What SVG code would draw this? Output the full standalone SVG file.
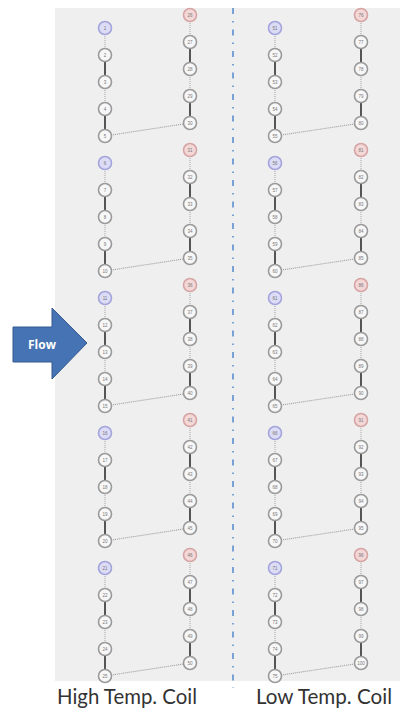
<svg xmlns="http://www.w3.org/2000/svg" width="400" height="712" viewBox="0 0 400 712">
<style>
.nd circle{fill:#f7f7f7;stroke:#9a9a9a;stroke-width:1.6}
.nd.bl circle{fill:#dcdcf6;stroke:#a4a4dc}
.nd.rd circle{fill:#f4d8d8;stroke:#d6a4a4}
.nd text{font-family:"Liberation Sans",Arial,sans-serif;font-size:4.5px;fill:#777;text-anchor:middle}
.dot{fill:none;stroke:#b0b0b0;stroke-width:1.2;stroke-dasharray:1 1}
.sol{fill:none;stroke:#555;stroke-width:2}
.crs{fill:none;stroke:#9a9a9a;stroke-width:1.1;stroke-dasharray:1 1}
.lbl{font-family:Lato,"Open Sans","Liberation Sans",sans-serif;font-size:21px;fill:#333}
</style>
<rect x="0" y="0" width="400" height="712" fill="#ffffff"/>
<rect x="55" y="8" width="345" height="673" fill="#efefef"/>
<line x1="233" y1="8" x2="233" y2="688" stroke="#5b8fd0" stroke-width="1.6" stroke-dasharray="6 7 1.5 7"/>
<g id="connectors">
<path class="dot" d="M105 28V55M105 82V109M105 163V190M105 217V244M105 298V325M105 352V379M105 433V460M105 487V514M105 568V595M105 622V649"/>
<path class="sol" d="M105 55V82M105 109V136M105 190V217M105 244V271M105 325V352M105 379V406M105 460V487M105 514V541M105 595V622M105 649V676"/>
<path class="dot" d="M190 15V42M190 69V96M190 150V177M190 204V231M190 285V312M190 339V366M190 420V447M190 474V501M190 555V582M190 609V636"/>
<path class="sol" d="M190 42V69M190 96V123M190 177V204M190 231V258M190 312V339M190 366V393M190 447V474M190 501V528M190 582V609M190 636V663"/>
<path class="crs" d="M105 136L190 123M105 271L190 258M105 406L190 393M105 541L190 528M105 676L190 663"/>
<path class="dot" d="M275 28V55M275 82V109M275 163V190M275 217V244M275 298V325M275 352V379M275 433V460M275 487V514M275 568V595M275 622V649"/>
<path class="sol" d="M275 55V82M275 109V136M275 190V217M275 244V271M275 325V352M275 379V406M275 460V487M275 514V541M275 595V622M275 649V676"/>
<path class="dot" d="M361 15V42M361 69V96M361 150V177M361 204V231M361 285V312M361 339V366M361 420V447M361 474V501M361 555V582M361 609V636"/>
<path class="sol" d="M361 42V69M361 96V123M361 177V204M361 231V258M361 312V339M361 366V393M361 447V474M361 501V528M361 582V609M361 636V663"/>
<path class="crs" d="M275 136L361 123M275 271L361 258M275 406L361 393M275 541L361 528M275 676L361 663"/>
</g>
<g id="n1" class="nd bl"><circle cx="105" cy="28" r="6.5"/><text x="105" y="29.6">1</text></g>
<g id="n2" class="nd"><circle cx="105" cy="55" r="6.5"/><text x="105" y="56.6">2</text></g>
<g id="n3" class="nd"><circle cx="105" cy="82" r="6.5"/><text x="105" y="83.6">3</text></g>
<g id="n4" class="nd"><circle cx="105" cy="109" r="6.5"/><text x="105" y="110.6">4</text></g>
<g id="n5" class="nd"><circle cx="105" cy="136" r="6.5"/><text x="105" y="137.6">5</text></g>
<g id="n6" class="nd bl"><circle cx="105" cy="163" r="6.5"/><text x="105" y="164.6">6</text></g>
<g id="n7" class="nd"><circle cx="105" cy="190" r="6.5"/><text x="105" y="191.6">7</text></g>
<g id="n8" class="nd"><circle cx="105" cy="217" r="6.5"/><text x="105" y="218.6">8</text></g>
<g id="n9" class="nd"><circle cx="105" cy="244" r="6.5"/><text x="105" y="245.6">9</text></g>
<g id="n10" class="nd"><circle cx="105" cy="271" r="6.5"/><text x="105" y="272.6">10</text></g>
<g id="n11" class="nd bl"><circle cx="105" cy="298" r="6.5"/><text x="105" y="299.6">11</text></g>
<g id="n12" class="nd"><circle cx="105" cy="325" r="6.5"/><text x="105" y="326.6">12</text></g>
<g id="n13" class="nd"><circle cx="105" cy="352" r="6.5"/><text x="105" y="353.6">13</text></g>
<g id="n14" class="nd"><circle cx="105" cy="379" r="6.5"/><text x="105" y="380.6">14</text></g>
<g id="n15" class="nd"><circle cx="105" cy="406" r="6.5"/><text x="105" y="407.6">15</text></g>
<g id="n16" class="nd bl"><circle cx="105" cy="433" r="6.5"/><text x="105" y="434.6">16</text></g>
<g id="n17" class="nd"><circle cx="105" cy="460" r="6.5"/><text x="105" y="461.6">17</text></g>
<g id="n18" class="nd"><circle cx="105" cy="487" r="6.5"/><text x="105" y="488.6">18</text></g>
<g id="n19" class="nd"><circle cx="105" cy="514" r="6.5"/><text x="105" y="515.6">19</text></g>
<g id="n20" class="nd"><circle cx="105" cy="541" r="6.5"/><text x="105" y="542.6">20</text></g>
<g id="n21" class="nd bl"><circle cx="105" cy="568" r="6.5"/><text x="105" y="569.6">21</text></g>
<g id="n22" class="nd"><circle cx="105" cy="595" r="6.5"/><text x="105" y="596.6">22</text></g>
<g id="n23" class="nd"><circle cx="105" cy="622" r="6.5"/><text x="105" y="623.6">23</text></g>
<g id="n24" class="nd"><circle cx="105" cy="649" r="6.5"/><text x="105" y="650.6">24</text></g>
<g id="n25" class="nd"><circle cx="105" cy="676" r="6.5"/><text x="105" y="677.6">25</text></g>
<g id="n26" class="nd rd"><circle cx="190" cy="15" r="6.5"/><text x="190" y="16.6">26</text></g>
<g id="n27" class="nd"><circle cx="190" cy="42" r="6.5"/><text x="190" y="43.6">27</text></g>
<g id="n28" class="nd"><circle cx="190" cy="69" r="6.5"/><text x="190" y="70.6">28</text></g>
<g id="n29" class="nd"><circle cx="190" cy="96" r="6.5"/><text x="190" y="97.6">29</text></g>
<g id="n30" class="nd"><circle cx="190" cy="123" r="6.5"/><text x="190" y="124.6">30</text></g>
<g id="n31" class="nd rd"><circle cx="190" cy="150" r="6.5"/><text x="190" y="151.6">31</text></g>
<g id="n32" class="nd"><circle cx="190" cy="177" r="6.5"/><text x="190" y="178.6">32</text></g>
<g id="n33" class="nd"><circle cx="190" cy="204" r="6.5"/><text x="190" y="205.6">33</text></g>
<g id="n34" class="nd"><circle cx="190" cy="231" r="6.5"/><text x="190" y="232.6">34</text></g>
<g id="n35" class="nd"><circle cx="190" cy="258" r="6.5"/><text x="190" y="259.6">35</text></g>
<g id="n36" class="nd rd"><circle cx="190" cy="285" r="6.5"/><text x="190" y="286.6">36</text></g>
<g id="n37" class="nd"><circle cx="190" cy="312" r="6.5"/><text x="190" y="313.6">37</text></g>
<g id="n38" class="nd"><circle cx="190" cy="339" r="6.5"/><text x="190" y="340.6">38</text></g>
<g id="n39" class="nd"><circle cx="190" cy="366" r="6.5"/><text x="190" y="367.6">39</text></g>
<g id="n40" class="nd"><circle cx="190" cy="393" r="6.5"/><text x="190" y="394.6">40</text></g>
<g id="n41" class="nd rd"><circle cx="190" cy="420" r="6.5"/><text x="190" y="421.6">41</text></g>
<g id="n42" class="nd"><circle cx="190" cy="447" r="6.5"/><text x="190" y="448.6">42</text></g>
<g id="n43" class="nd"><circle cx="190" cy="474" r="6.5"/><text x="190" y="475.6">43</text></g>
<g id="n44" class="nd"><circle cx="190" cy="501" r="6.5"/><text x="190" y="502.6">44</text></g>
<g id="n45" class="nd"><circle cx="190" cy="528" r="6.5"/><text x="190" y="529.6">45</text></g>
<g id="n46" class="nd rd"><circle cx="190" cy="555" r="6.5"/><text x="190" y="556.6">46</text></g>
<g id="n47" class="nd"><circle cx="190" cy="582" r="6.5"/><text x="190" y="583.6">47</text></g>
<g id="n48" class="nd"><circle cx="190" cy="609" r="6.5"/><text x="190" y="610.6">48</text></g>
<g id="n49" class="nd"><circle cx="190" cy="636" r="6.5"/><text x="190" y="637.6">49</text></g>
<g id="n50" class="nd"><circle cx="190" cy="663" r="6.5"/><text x="190" y="664.6">50</text></g>
<g id="n51" class="nd bl"><circle cx="275" cy="28" r="6.5"/><text x="275" y="29.6">51</text></g>
<g id="n52" class="nd"><circle cx="275" cy="55" r="6.5"/><text x="275" y="56.6">52</text></g>
<g id="n53" class="nd"><circle cx="275" cy="82" r="6.5"/><text x="275" y="83.6">53</text></g>
<g id="n54" class="nd"><circle cx="275" cy="109" r="6.5"/><text x="275" y="110.6">54</text></g>
<g id="n55" class="nd"><circle cx="275" cy="136" r="6.5"/><text x="275" y="137.6">55</text></g>
<g id="n56" class="nd bl"><circle cx="275" cy="163" r="6.5"/><text x="275" y="164.6">56</text></g>
<g id="n57" class="nd"><circle cx="275" cy="190" r="6.5"/><text x="275" y="191.6">57</text></g>
<g id="n58" class="nd"><circle cx="275" cy="217" r="6.5"/><text x="275" y="218.6">58</text></g>
<g id="n59" class="nd"><circle cx="275" cy="244" r="6.5"/><text x="275" y="245.6">59</text></g>
<g id="n60" class="nd"><circle cx="275" cy="271" r="6.5"/><text x="275" y="272.6">60</text></g>
<g id="n61" class="nd bl"><circle cx="275" cy="298" r="6.5"/><text x="275" y="299.6">61</text></g>
<g id="n62" class="nd"><circle cx="275" cy="325" r="6.5"/><text x="275" y="326.6">62</text></g>
<g id="n63" class="nd"><circle cx="275" cy="352" r="6.5"/><text x="275" y="353.6">63</text></g>
<g id="n64" class="nd"><circle cx="275" cy="379" r="6.5"/><text x="275" y="380.6">64</text></g>
<g id="n65" class="nd"><circle cx="275" cy="406" r="6.5"/><text x="275" y="407.6">65</text></g>
<g id="n66" class="nd bl"><circle cx="275" cy="433" r="6.5"/><text x="275" y="434.6">66</text></g>
<g id="n67" class="nd"><circle cx="275" cy="460" r="6.5"/><text x="275" y="461.6">67</text></g>
<g id="n68" class="nd"><circle cx="275" cy="487" r="6.5"/><text x="275" y="488.6">68</text></g>
<g id="n69" class="nd"><circle cx="275" cy="514" r="6.5"/><text x="275" y="515.6">69</text></g>
<g id="n70" class="nd"><circle cx="275" cy="541" r="6.5"/><text x="275" y="542.6">70</text></g>
<g id="n71" class="nd bl"><circle cx="275" cy="568" r="6.5"/><text x="275" y="569.6">71</text></g>
<g id="n72" class="nd"><circle cx="275" cy="595" r="6.5"/><text x="275" y="596.6">72</text></g>
<g id="n73" class="nd"><circle cx="275" cy="622" r="6.5"/><text x="275" y="623.6">73</text></g>
<g id="n74" class="nd"><circle cx="275" cy="649" r="6.5"/><text x="275" y="650.6">74</text></g>
<g id="n75" class="nd"><circle cx="275" cy="676" r="6.5"/><text x="275" y="677.6">75</text></g>
<g id="n76" class="nd rd"><circle cx="361" cy="15" r="6.5"/><text x="361" y="16.6">76</text></g>
<g id="n77" class="nd"><circle cx="361" cy="42" r="6.5"/><text x="361" y="43.6">77</text></g>
<g id="n78" class="nd"><circle cx="361" cy="69" r="6.5"/><text x="361" y="70.6">78</text></g>
<g id="n79" class="nd"><circle cx="361" cy="96" r="6.5"/><text x="361" y="97.6">79</text></g>
<g id="n80" class="nd"><circle cx="361" cy="123" r="6.5"/><text x="361" y="124.6">80</text></g>
<g id="n81" class="nd rd"><circle cx="361" cy="150" r="6.5"/><text x="361" y="151.6">81</text></g>
<g id="n82" class="nd"><circle cx="361" cy="177" r="6.5"/><text x="361" y="178.6">82</text></g>
<g id="n83" class="nd"><circle cx="361" cy="204" r="6.5"/><text x="361" y="205.6">83</text></g>
<g id="n84" class="nd"><circle cx="361" cy="231" r="6.5"/><text x="361" y="232.6">84</text></g>
<g id="n85" class="nd"><circle cx="361" cy="258" r="6.5"/><text x="361" y="259.6">85</text></g>
<g id="n86" class="nd rd"><circle cx="361" cy="285" r="6.5"/><text x="361" y="286.6">86</text></g>
<g id="n87" class="nd"><circle cx="361" cy="312" r="6.5"/><text x="361" y="313.6">87</text></g>
<g id="n88" class="nd"><circle cx="361" cy="339" r="6.5"/><text x="361" y="340.6">88</text></g>
<g id="n89" class="nd"><circle cx="361" cy="366" r="6.5"/><text x="361" y="367.6">89</text></g>
<g id="n90" class="nd"><circle cx="361" cy="393" r="6.5"/><text x="361" y="394.6">90</text></g>
<g id="n91" class="nd rd"><circle cx="361" cy="420" r="6.5"/><text x="361" y="421.6">91</text></g>
<g id="n92" class="nd"><circle cx="361" cy="447" r="6.5"/><text x="361" y="448.6">92</text></g>
<g id="n93" class="nd"><circle cx="361" cy="474" r="6.5"/><text x="361" y="475.6">93</text></g>
<g id="n94" class="nd"><circle cx="361" cy="501" r="6.5"/><text x="361" y="502.6">94</text></g>
<g id="n95" class="nd"><circle cx="361" cy="528" r="6.5"/><text x="361" y="529.6">95</text></g>
<g id="n96" class="nd rd"><circle cx="361" cy="555" r="6.5"/><text x="361" y="556.6">96</text></g>
<g id="n97" class="nd"><circle cx="361" cy="582" r="6.5"/><text x="361" y="583.6">97</text></g>
<g id="n98" class="nd"><circle cx="361" cy="609" r="6.5"/><text x="361" y="610.6">98</text></g>
<g id="n99" class="nd"><circle cx="361" cy="636" r="6.5"/><text x="361" y="637.6">99</text></g>
<g id="n100" class="nd"><circle cx="361" cy="663" r="6.5"/><text x="361" y="664.6">100</text></g>
<g id="flow">
<polygon points="13,327 52,327 52,308 87,343 52,379 52,362 13,362" fill="#4673b3" stroke="#34598f" stroke-width="1"/>
<text x="42" y="349" font-family="'Open Sans','Liberation Sans',sans-serif" font-size="12" font-weight="bold" fill="#ffffff" text-anchor="middle">Flow</text>
</g>
<text class="lbl" x="57" y="704" textLength="140" lengthAdjust="spacingAndGlyphs">High Temp. Coil</text>
<text class="lbl" x="256" y="704" textLength="136" lengthAdjust="spacingAndGlyphs">Low Temp. Coil</text>
</svg>
